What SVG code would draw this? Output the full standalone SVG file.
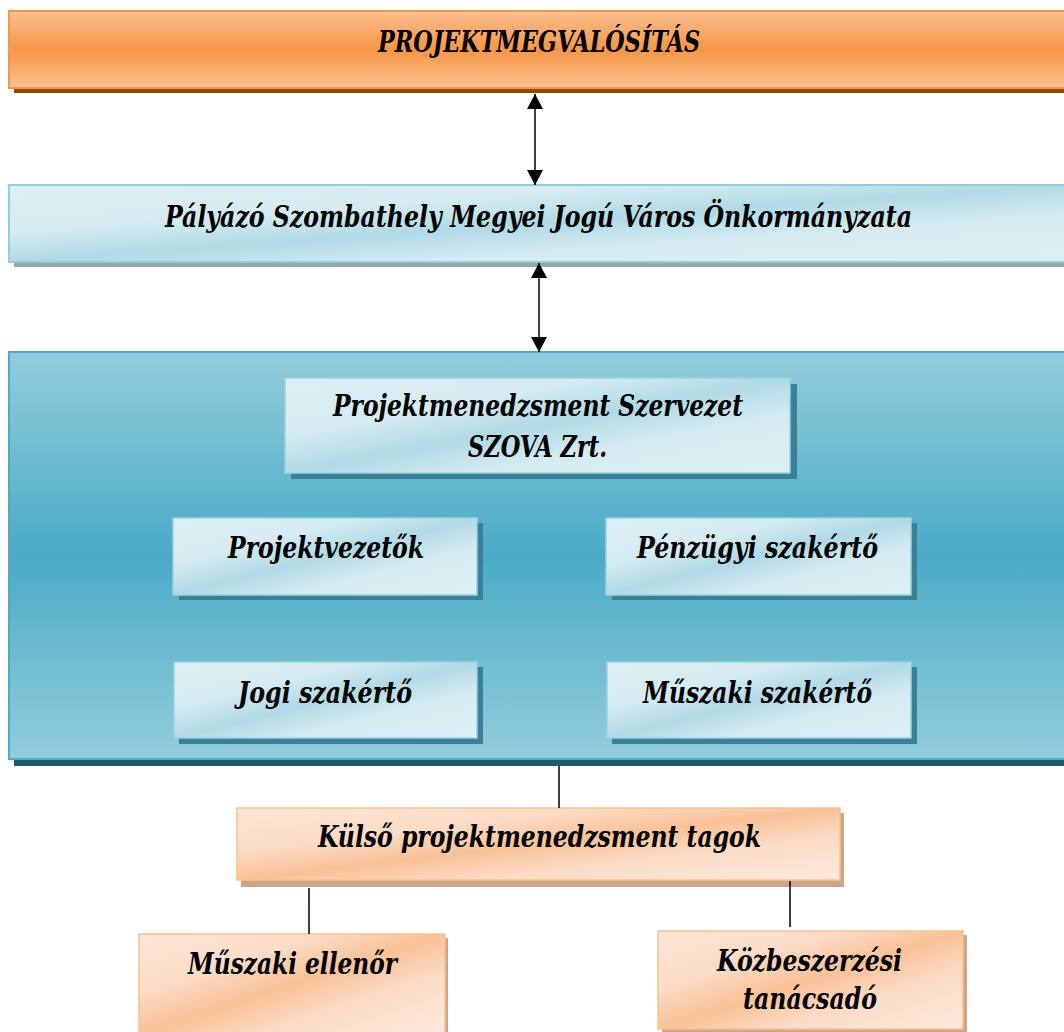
<svg xmlns="http://www.w3.org/2000/svg" width="1064" height="1032" viewBox="0 0 1064 1032">
<defs>
<style>
text{font-family:"DejaVu Serif Condensed","DejaVu Serif",serif;font-stretch:condensed;font-weight:bold;font-style:italic;font-size:29px;fill:#000;text-anchor:middle}
.conn{stroke:#000;stroke-width:1.5;fill:none}
.bsh{fill:#3A8198}
.osh{fill:#CFA58A}
.bbox{fill:url(#gBlueLight);stroke:#9CD2E0;stroke-width:1.5}
.obox{fill:url(#gOrangeLight);stroke:#FAC090;stroke-width:1.5}
</style>
<linearGradient id="gTop" x1="0" y1="0" x2="0" y2="1">
<stop offset="0" stop-color="#FAC090"/>
<stop offset="0.5" stop-color="#F79646"/>
<stop offset="1" stop-color="#FAC090"/>
</linearGradient>
<linearGradient id="gBig" x1="0" y1="0" x2="0" y2="1">
<stop offset="0" stop-color="#93CDDC"/>
<stop offset="0.5" stop-color="#4AABC6"/>
<stop offset="1" stop-color="#93CDDC"/>
</linearGradient>
<linearGradient id="gBlueLight" x1="0" y1="0" x2="1" y2="1">
<stop offset="0" stop-color="#DDEFF4"/>
<stop offset="0.3" stop-color="#D6ECF2"/>
<stop offset="0.5" stop-color="#B0DAE5"/>
<stop offset="0.7" stop-color="#D6ECF2"/>
<stop offset="1" stop-color="#DDEFF4"/>
</linearGradient>
<linearGradient id="gOrangeLight" x1="0" y1="0" x2="1" y2="1">
<stop offset="0" stop-color="#FCE6D7"/>
<stop offset="0.3" stop-color="#FBDCC6"/>
<stop offset="0.5" stop-color="#F9C196"/>
<stop offset="0.7" stop-color="#FBDCC6"/>
<stop offset="1" stop-color="#FCE9DC"/>
</linearGradient>
<marker id="ah" markerUnits="userSpaceOnUse" markerWidth="16" markerHeight="16" viewBox="0 0 16 16" refX="15" refY="8" orient="auto-start-reverse">
<path d="M0,0 L15,8 L0,16 z" fill="#000"/>
</marker>
</defs>
<rect width="1064" height="1032" fill="#FFFFFF"/>

<g id="node-projektmegvalositas">
<rect x="14" y="16" width="1060" height="77" fill="#974806"/>
<rect x="9" y="11" width="1060" height="77" fill="url(#gTop)" stroke="#F79646" stroke-width="2"/>
<text x="539" y="52" textLength="322" lengthAdjust="spacingAndGlyphs">PROJEKTMEGVALÓSÍTÁS</text>
</g>

<g id="node-palyazo">
<rect x="14" y="190" width="1060" height="77" fill="#97A6AB"/>
<rect x="9" y="185" width="1060" height="77" fill="url(#gBlueLight)" stroke="#92CDDC" stroke-width="2"/>
<text x="538.5" y="227" textLength="747" lengthAdjust="spacingAndGlyphs">Pályázó Szombathely Megyei Jogú Város Önkormányzata</text>
</g>

<g id="node-pm-container">
<rect x="14" y="357" width="1060" height="409" fill="#215868"/>
<rect x="9" y="352" width="1060" height="407" fill="url(#gBig)" stroke="#4BACC6" stroke-width="2"/>
</g>

<g id="node-pm-szervezet">
<rect class="bsh" x="291" y="384" width="506" height="95"/>
<rect class="bbox" x="285" y="378" width="505" height="95"/>
<text x="538" y="416" textLength="410" lengthAdjust="spacingAndGlyphs">Projektmenedzsment Szervezet</text>
<text x="537.5" y="457" textLength="139" lengthAdjust="spacingAndGlyphs">SZOVA Zrt.</text>
</g>

<g id="node-projektvezetok">
<rect class="bsh" x="179" y="523" width="304" height="77"/>
<rect class="bbox" x="173" y="518" width="304" height="77"/>
<text x="326" y="558" textLength="196" lengthAdjust="spacingAndGlyphs">Projektvezetők</text>
</g>

<g id="node-penzugyi">
<rect class="bsh" x="612" y="523" width="305" height="77"/>
<rect class="bbox" x="606" y="518" width="305" height="77"/>
<text x="757.5" y="558" textLength="241" lengthAdjust="spacingAndGlyphs">Pénzügyi szakértő</text>
</g>

<g id="node-jogi">
<rect class="bsh" x="179" y="667" width="304" height="77"/>
<rect class="bbox" x="174" y="662" width="303" height="76"/>
<text x="325" y="703" textLength="174" lengthAdjust="spacingAndGlyphs">Jogi szakértő</text>
</g>

<g id="node-muszaki-szakerto">
<rect class="bsh" x="612" y="667" width="305" height="77"/>
<rect class="bbox" x="607" y="662" width="304" height="76"/>
<text x="757.5" y="703" textLength="229" lengthAdjust="spacingAndGlyphs">Műszaki szakértő</text>
</g>

<g id="node-kulso">
<rect class="osh" x="241" y="813" width="603" height="74"/>
<rect class="obox" x="237" y="808" width="603" height="72"/>
<text x="539.5" y="847" textLength="443" lengthAdjust="spacingAndGlyphs">Külső projektmenedzsment tagok</text>
</g>

<g id="node-muszaki-ellenor">
<rect class="osh" x="143" y="938" width="305" height="100"/>
<rect class="obox" x="139" y="934" width="306" height="100"/>
<text x="292.5" y="974" textLength="209" lengthAdjust="spacingAndGlyphs">Műszaki ellenőr</text>
</g>

<g id="node-kozbeszerzesi">
<rect class="osh" x="662" y="935" width="305" height="100"/>
<rect class="obox" x="658" y="931" width="305" height="98"/>
<text x="809.5" y="971" textLength="185" lengthAdjust="spacingAndGlyphs">Közbeszerzési</text>
<text x="810" y="1009" textLength="134" lengthAdjust="spacingAndGlyphs">tanácsadó</text>
</g>

<g id="connectors">
<line class="conn" x1="535" y1="94" x2="535" y2="185" marker-start="url(#ah)" marker-end="url(#ah)"/>
<line class="conn" x1="539" y1="263" x2="539" y2="352" marker-start="url(#ah)" marker-end="url(#ah)"/>
<line class="conn" x1="559" y1="766" x2="559" y2="808"/>
<line class="conn" x1="309" y1="888" x2="309" y2="934"/>
<line class="conn" x1="790" y1="881" x2="790" y2="927"/>
</g>
</svg>
